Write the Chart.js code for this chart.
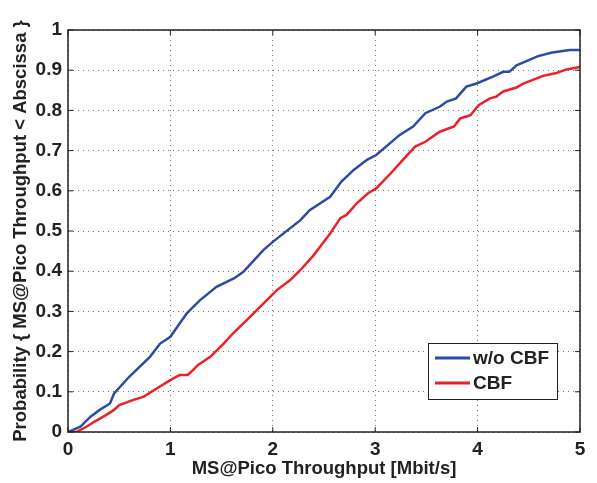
<!DOCTYPE html>
<html>
<head>
<meta charset="utf-8">
<script src="https://cdn.jsdelivr.net/npm/chart.js@4"></script>
<style>
  html, body { margin: 0; padding: 0; background: #fff; }
  #wrap { width: 597px; height: 483px; }
</style>
</head>
<body>
<div id="wrap"><canvas id="cdf"></canvas></div>
<script>
// throughput [Mbit/s] and probability
var woCbfX = [0, 0.12, 0.22, 0.31, 0.41, 0.45, 0.6, 0.8, 0.9, 1.0, 1.09, 1.16, 1.29, 1.45, 1.62, 1.71, 1.91, 2.0,
  2.27, 2.36, 2.56, 2.67, 2.79, 2.92, 3.01, 3.24, 3.37, 3.49, 3.63, 3.7, 3.79, 3.89, 3.99, 4.15, 4.25, 4.31, 4.38,
  4.5, 4.59, 4.73, 4.9, 5.0];
var woCbfY = [0, 0.013, 0.038, 0.055, 0.071, 0.096, 0.138, 0.187, 0.22, 0.237, 0.27, 0.295, 0.328, 0.361, 0.382, 0.398, 0.453, 0.473,
  0.527, 0.552, 0.585, 0.623, 0.652, 0.677, 0.689, 0.739, 0.76, 0.793, 0.809, 0.822, 0.83, 0.859, 0.867, 0.884, 0.896, 0.896, 0.912,
  0.925, 0.935, 0.944, 0.95, 0.95];
var cbfX = [0, 0.08, 0.18, 0.26, 0.37, 0.45, 0.5, 0.64, 0.74, 0.87, 1.0, 1.09, 1.17, 1.22, 1.27, 1.39, 1.52, 1.61, 1.78, 1.91,
  2.04, 2.17, 2.27, 2.4, 2.46, 2.56, 2.66, 2.72, 2.82, 2.93, 3.01, 3.15, 3.27, 3.39, 3.49, 3.63, 3.77, 3.83, 3.93, 4.01,
  4.12, 4.18, 4.25, 4.38, 4.44, 4.54, 4.64, 4.77, 4.87, 5.0];
var cbfY = [0, 0, 0.013, 0.026, 0.042, 0.055, 0.067, 0.08, 0.088, 0.109, 0.129, 0.142, 0.142, 0.154, 0.167, 0.187, 0.22, 0.245, 0.287, 0.32,
  0.353, 0.378, 0.403, 0.44, 0.46, 0.494, 0.532, 0.54, 0.569, 0.594, 0.606, 0.643, 0.677, 0.71, 0.722, 0.747, 0.76, 0.78, 0.788, 0.813,
  0.83, 0.834, 0.847, 0.857, 0.866, 0.876, 0.886, 0.893, 0.902, 0.908];
var seriesNames = ["w/o CBF", "CBF"];
var xTicks = [0, 1, 2, 3, 4, 5];
var yTicks = [0, 0.1, 0.2, 0.3, 0.4, 0.5, 0.6, 0.7, 0.8, 0.9, 1];

function pts(xs, ys) {
  return xs.map(function (x, i) { return { x: x, y: ys[i] }; });
}

var blue = "#2c4ba6";
var red = "#ec2127";
var fam = "'Liberation Sans', Arial, sans-serif";

var frame = {
  id: "frame",
  afterDatasetsDraw: function (chart) {
    var ctx = chart.ctx, a = chart.chartArea;
    var sx = chart.scales.x, sy = chart.scales.y;
    ctx.save();
    ctx.strokeStyle = "#222";
    ctx.lineWidth = 1.5;
    ctx.strokeRect(a.left, a.top, a.right - a.left, a.bottom - a.top);
    ctx.lineWidth = 1;
    xTicks.forEach(function (v) {
      var px = sx.getPixelForValue(v);
      ctx.beginPath();
      ctx.moveTo(px, a.bottom); ctx.lineTo(px, a.bottom - 5);
      ctx.moveTo(px, a.top); ctx.lineTo(px, a.top + 5);
      ctx.stroke();
    });
    yTicks.forEach(function (v) {
      var py = sy.getPixelForValue(v);
      ctx.beginPath();
      ctx.moveTo(a.left, py); ctx.lineTo(a.left + 5, py);
      ctx.moveTo(a.right, py); ctx.lineTo(a.right - 5, py);
      ctx.stroke();
    });

    // legend box, lower right inside the plot
    var bx = 428, by = 343, bw = 129, bh = 56;
    ctx.fillStyle = "#fff";
    ctx.fillRect(bx, by, bw, bh);
    ctx.lineWidth = 1;
    ctx.strokeStyle = "#222";
    ctx.strokeRect(bx + 0.5, by + 0.5, bw, bh);
    ctx.font = "bold 19px " + fam;
    ctx.textBaseline = "middle";
    chart.data.datasets.forEach(function (ds, i) {
      var yy = by + 15 + i * 25;
      ctx.strokeStyle = ds.borderColor;
      ctx.lineWidth = 3;
      ctx.beginPath();
      ctx.moveTo(bx + 7, yy); ctx.lineTo(bx + 42, yy);
      ctx.stroke();
      ctx.fillStyle = "#222";
      ctx.fillText(ds.label, bx + 45, yy + 1);
    });
    ctx.restore();
  }
};

new Chart(document.getElementById("cdf"), {
  type: "line",
  data: {
    datasets: [{
      label: seriesNames[0],
      data: pts(woCbfX, woCbfY),
      borderColor: blue,
      borderWidth: 2.5,
      pointRadius: 0,
      tension: 0
    }, {
      label: seriesNames[1],
      data: pts(cbfX, cbfY),
      borderColor: red,
      borderWidth: 2.5,
      pointRadius: 0,
      tension: 0
    }]
  },
  plugins: [frame],
  options: {
    responsive: true,
    maintainAspectRatio: false,
    animation: false,
    layout: { padding: { top: 30, right: 17, left: 0, bottom: 0 } },
    plugins: {
      legend: { display: false },
      tooltip: { enabled: false }
    },
    scales: {
      x: {
        type: "linear",
        min: 0, max: 5,
        afterBuildTicks: function (s) { s.ticks = xTicks.map(function (v) { return { value: v }; }); },
        afterFit: function (s) { s.height = 51; },
        grid: { color: "#777", lineWidth: 1, tickLength: 0, drawTicks: false },
        border: { display: false, dash: [1, 4] },
        ticks: {
          color: "#222",
          padding: 6,
          maxRotation: 0,
          font: { family: fam, size: 19, weight: "bold" }
        },
        title: {
          display: true,
          text: "MS@Pico Throughput [Mbit/s]",
          color: "#222",
          padding: { top: 0, bottom: 3 },
          font: { family: fam, size: 18.5, weight: "bold" }
        }
      },
      y: {
        type: "linear",
        min: 0, max: 1,
        afterBuildTicks: function (s) { s.ticks = yTicks.map(function (v) { return { value: v }; }); },
        afterFit: function (s) { s.width = 68; },
        grid: { color: "#777", lineWidth: 1, tickLength: 0, drawTicks: false },
        border: { display: false, dash: [1, 4] },
        ticks: {
          color: "#222",
          padding: 6,
          font: { family: fam, size: 19, weight: "bold" },
          callback: function (v) { return String(Math.round(v * 10) / 10); }
        },
        title: {
          display: true,
          text: "Probability { MS@Pico Throughput < Abscissa }",
          color: "#222",
          padding: { top: 10, bottom: 0 },
          font: { family: fam, size: 18.5, weight: "bold" }
        }
      }
    }
  }
});
</script>
</body>
</html>
